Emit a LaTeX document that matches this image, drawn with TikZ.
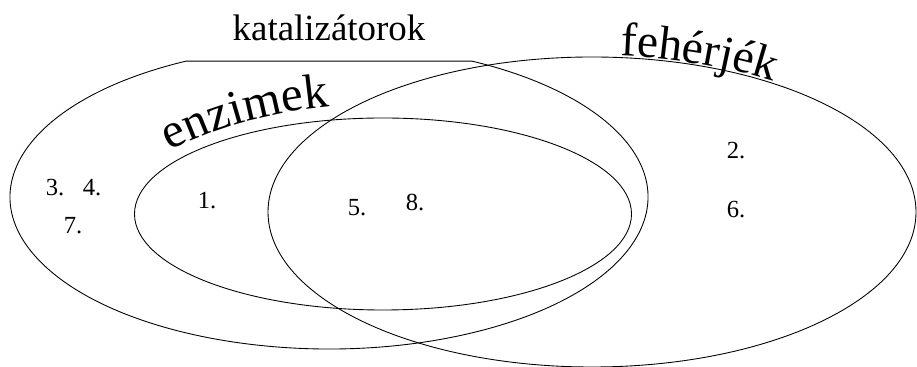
\documentclass[tikz,border=0pt]{standalone}
\usepackage{fontspec}
\setmainfont{Liberation Serif}
\usetikzlibrary{decorations.text}
\newcommand\arcfont{\rmfamily\fontsize{27}{31}\selectfont}
\newcommand\enzfont{\rmfamily\fontsize{28}{32}\selectfont}
\tikzset{
  setline/.style={line width=0.5pt},
  num/.style={font=\rmfamily\fontsize{14}{16}\selectfont,inner sep=0pt},
  title/.style={font=\rmfamily\fontsize{21}{25}\selectfont,inner sep=0pt},
}

\begin{document}
\begin{tikzpicture}
\useasboundingbox (0,0) rectangle (18.34,7.34);
% ---- the three sets
\draw[setline] ([shift={(116.6:6.38 and 3.04)}]6.58,3.40) arc[start angle=116.6,end angle=423.4,x radius=6.38,y radius=3.04] -- cycle;
\draw[setline] (7.66,3.06) ellipse[x radius=4.97,y radius=1.92];
\draw[setline] (11.84,3.10) ellipse[x radius=6.48,y radius=3.10];
% ---- set names
\node[title] (kat) at (6.58,6.78) {katalizátorok};
\path[decorate,decoration={text along path,text align=left,raise=1pt,text={|\arcfont|fehérjék}}]
  ([shift={(85:6.48 and 3.10)}]11.84,3.10) arc[start angle=85,end angle=25,x radius=6.48,y radius=3.10];
\path[decorate,decoration={text along path,text align=left,text={|\enzfont|enzimek}}]
  (3.40,4.32) .. controls (4.7,4.98) and (6.0,5.22) .. (7.7,5.28);
% ---- elements
\node[num] (n3) at (1.10,3.58) {3.};
\node[num] (n4) at (1.84,3.58) {4.};
\node[num] (n7) at (1.46,2.82) {7.};
\node[num] (n1) at (4.14,3.32) {1.};
\node[num] (n5) at (7.14,3.18) {5.};
\node[num] (n8) at (8.30,3.30) {8.};
\node[num] (n2) at (14.72,4.32) {2.};
\node[num] (n6) at (14.72,3.14) {6.};
\end{tikzpicture}
\end{document}
